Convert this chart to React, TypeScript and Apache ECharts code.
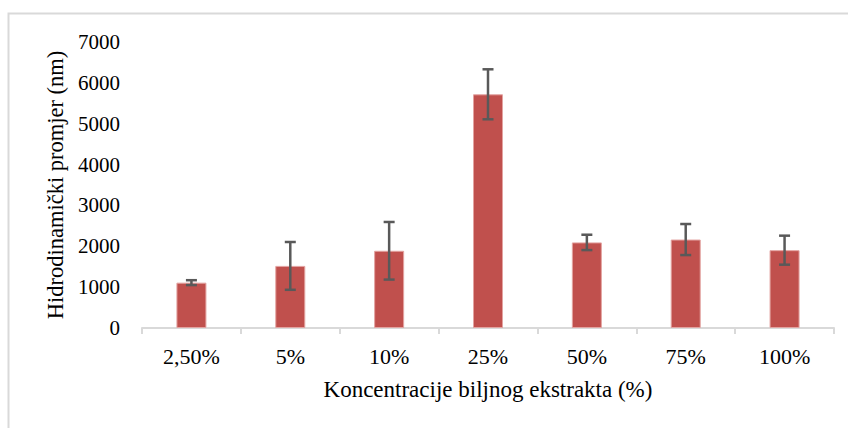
import React, { useEffect, useRef } from "react";
import * as echarts from "echarts";

const categories = ["2,50%", "5%", "10%", "25%", "50%", "75%", "100%"];
const means = [1110, 1520, 1890, 5720, 2095, 2165, 1905];
const errors = [60, 585, 705, 612, 188, 380, 355];
const yTicks = { min: 0, max: 7000, interval: 1000 };

const FONT = "'Liberation Serif', 'Times New Roman', serif";

export default function App() {
  const ref = useRef<HTMLDivElement>(null);
  useEffect(() => {
    if (!ref.current) return;
    const chart = echarts.init(ref.current, undefined, { renderer: "svg" });
    const errData = means.map((m, i) => [i, m - errors[i], m + errors[i]]);
    chart.setOption({
      animation: false,
      backgroundColor: "#ffffff",
      graphic: [
        {
          type: "rect",
          shape: { x: 8.5, y: 13.5, width: 1000, height: 1000 },
          style: { fill: "none", stroke: "#d9d9d9", lineWidth: 2 },
          silent: true,
        },
      ],
      grid: { left: 142, right: 14, top: 42, bottom: 100 },
      xAxis: {
        type: "category",
        data: categories,
        name: "Koncentracije biljnog ekstrakta (%)",
        nameLocation: "middle",
        nameGap: 50,
        nameTextStyle: { fontFamily: FONT, fontSize: 23, color: "#000" },
        axisLine: { lineStyle: { color: "#d9d9d9", width: 2 } },
        axisTick: { show: true, length: 6, lineStyle: { color: "#d9d9d9", width: 2 } },
        axisLabel: { fontFamily: FONT, fontSize: 22, color: "#000", margin: 17 },
      },
      yAxis: {
        type: "value",
        min: yTicks.min,
        max: yTicks.max,
        interval: yTicks.interval,
        name: "Hidrodinamički promjer (nm)",
        nameLocation: "middle",
        nameGap: 66,
        nameRotate: 90,
        nameTextStyle: { fontFamily: FONT, fontSize: 22.5, color: "#000" },
        axisLine: { show: false },
        axisTick: { show: false },
        splitLine: { show: false },
        axisLabel: {
          fontFamily: FONT,
          fontSize: 21,
          color: "#000",
          margin: 22,
          formatter: (v: number) => String(v),
        },
      },
      series: [
        {
          type: "bar",
          data: means,
          barWidth: 30,
          itemStyle: { color: "#c0504d", borderColor: "#e3a3a1", borderWidth: 1 },
        },
        {
          type: "custom",
          data: errData,
          encode: { x: 0, y: [1, 2] },
          z: 10,
          renderItem: (params: any, api: any) => {
            const x = api.value(0);
            const lo = api.coord([x, api.value(1)]);
            const hi = api.coord([x, api.value(2)]);
            const hw = 5.5;
            const style = { stroke: "#595959", lineWidth: 2.5 };
            return {
              type: "group",
              children: [
                { type: "line", shape: { x1: hi[0], y1: hi[1], x2: lo[0], y2: lo[1] }, style },
                { type: "line", shape: { x1: hi[0] - hw, y1: hi[1], x2: hi[0] + hw, y2: hi[1] }, style },
                { type: "line", shape: { x1: lo[0] - hw, y1: lo[1], x2: lo[0] + hw, y2: lo[1] }, style },
              ],
            };
          },
        },
      ],
    });
    return () => chart.dispose();
  }, []);
  return (
    <div
      ref={ref}
      style={{ position: "absolute", left: 0, top: 0, width: 848, height: 428 }}
    />
  );
}
